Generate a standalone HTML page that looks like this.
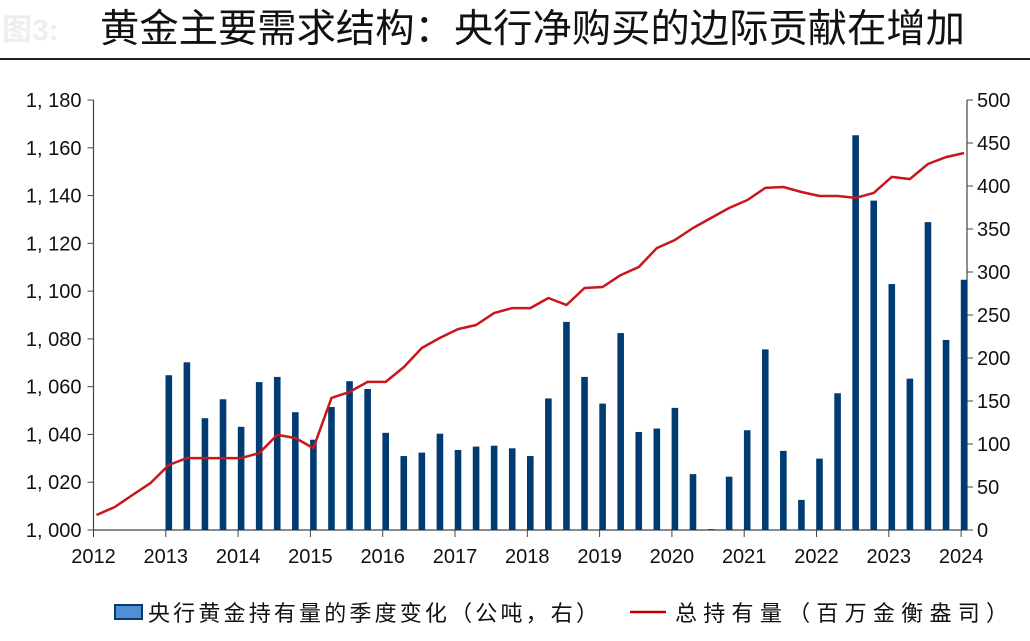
<!DOCTYPE html>
<html><head><meta charset="utf-8"><style>
html,body{margin:0;padding:0;background:#fff;}
body{width:1030px;height:636px;overflow:hidden;font-family:"Liberation Sans","Noto Sans CJK SC",sans-serif;}
</style></head><body>
<svg id="chart" width="1030" height="636" xmlns="http://www.w3.org/2000/svg" font-family="Liberation Sans, Noto Sans CJK SC, sans-serif">
<text x="2" y="40" font-size="30" fill="#eee" font-weight="bold">图3:</text>
<text x="100" y="42" font-size="39" textLength="865" lengthAdjust="spacingAndGlyphs" fill="#111" font-family="Noto Sans CJK SC, sans-serif">黄金主要需求结构：央行净购买的边际贡献在增加</text>
<line x1="0" y1="59" x2="1030" y2="59" stroke="#222" stroke-width="2"/>
<g id="axes"></g>
<g id="bars"></g>
<g id="line"></g>
<g>
<rect x="115" y="605" width="27" height="14" fill="#4f8fd6" stroke="#0b3a6b" stroke-width="2"/>
<text x="148" y="621" font-size="22" textLength="450" lengthAdjust="spacing" fill="#111" font-family="Noto Sans CJK SC, sans-serif">央行黄金持有量的季度变化（公吨，右）</text>
<line x1="630" y1="612" x2="666" y2="612" stroke="#c00000" stroke-width="2.5"/>
<text x="675" y="621" font-size="22" textLength="333" lengthAdjust="spacing" fill="#111" font-family="Noto Sans CJK SC, sans-serif">总持有量（百万金衡盎司）</text>
</g>
</svg>
<script>
const yearLabels=["2012","2013","2014","2015","2016","2017","2018","2019","2020","2021","2022","2023","2024"];
const leftTicks=[1000,1020,1040,1060,1080,1100,1120,1140,1160,1180];
const leftTickLabels=["1, 000","1, 020","1, 040","1, 060","1, 080","1, 100","1, 120","1, 140","1, 160","1, 180"];
const rightTicks=[0,50,100,150,200,250,300,350,400,450,500];
// quarterly central bank change, 2013Q1..2024Q1 (tonnes, right axis)
const barValues=[180,195,130,152,120,172,178,137,105,143,173,164,113,86,90,112,93,97,98,95,86,153,242,178,147,229,114,118,142,65,1,62,116,210,92,35,83,159,459,383,286,176,358,221,291];
// total holdings 2012Q1..2024Q1 (million troy oz, left axis)
const lineValues=[1006.3,1009.6,1014.7,1019.7,1027.2,1030.1,1030.1,1030.1,1030.1,1032.2,1039.8,1038.5,1034.3,1055.3,1057.8,1062,1062,1068.2,1076.2,1080.4,1084.1,1085.8,1090.8,1092.9,1092.9,1097.1,1094.2,1101.3,1101.7,1106.7,1110.1,1118,1121.4,1126.4,1130.6,1134.8,1138.1,1143.2,1143.6,1141.5,1139.8,1139.8,1139,1141.1,1147.8,1146.9,1153.2,1156.1,1157.8];
const NS="http://www.w3.org/2000/svg";
const X0=93.5,YW=72.3,Y0=530,Y1=100,XR=967;
function xYear(i){return X0+i*YW;}
function xQ(q){return X0+3+q*YW/4;}
function yL(v){return Y0-(v-1000)/180*(Y0-Y1);}
function yR(v){return Y0-v/500*(Y0-Y1);}
function mk(tag,attrs,parent){const e=document.createElementNS(NS,tag);for(const k in attrs)e.setAttribute(k,attrs[k]);parent.appendChild(e);return e;}
const ax=document.getElementById('axes');
let e=mk('line',{x1:X0,y1:Y1,x2:X0,y2:Y0,stroke:'#444','stroke-width':1.2},ax);


e=mk('line',{x1:XR,y1:Y1,x2:XR,y2:Y0,stroke:'#444','stroke-width':1.2},ax);


e=mk('line',{x1:X0,y1:Y0,x2:XR,y2:Y0,stroke:'#444','stroke-width':1.2},ax);


leftTicks.forEach((v,i)=>{const y=yL(v);
 mk('line',{x1:X0-6,y1:y,x2:X0,y2:y,stroke:'#444'},ax);
 const t=mk('text',{x:X0-12,y:y+7,'font-size':20,'text-anchor':'end',fill:'#111'},ax);t.textContent=leftTickLabels[i];
 
 });
rightTicks.forEach(v=>{const y=yR(v);
 mk('line',{x1:XR,y1:y,x2:XR+6,y2:y,stroke:'#444'},ax);
 const t=mk('text',{x:XR+10,y:y+7,'font-size':20,fill:'#111'},ax);t.textContent=v;
 
 });
yearLabels.forEach((l,i)=>{const x=xYear(i);
 mk('line',{x1:x,y1:Y0,x2:x,y2:Y0+7,stroke:'#444'},ax);
 const t=mk('text',{x:x,y:Y0+33,'font-size':20,'text-anchor':'middle',fill:'#111'},ax);t.textContent=l;
 
 });
const bg=document.getElementById('bars');
barValues.forEach((v,i)=>{const x=xQ(i+4);const y=yR(v);
 const r=mk('rect',{x:x-3.3,y:y,width:6.6,height:Y0-y,fill:'#003c71'},bg);
 
 });
const pts=lineValues.map((v,i)=>xQ(i).toFixed(1)+','+yL(v).toFixed(1)).join(' ');
const pl=mk('polyline',{points:pts,fill:'none',stroke:'#c8161d','stroke-width':2.5,'stroke-linejoin':'round'},document.getElementById('line'));


</script>
</body></html>
